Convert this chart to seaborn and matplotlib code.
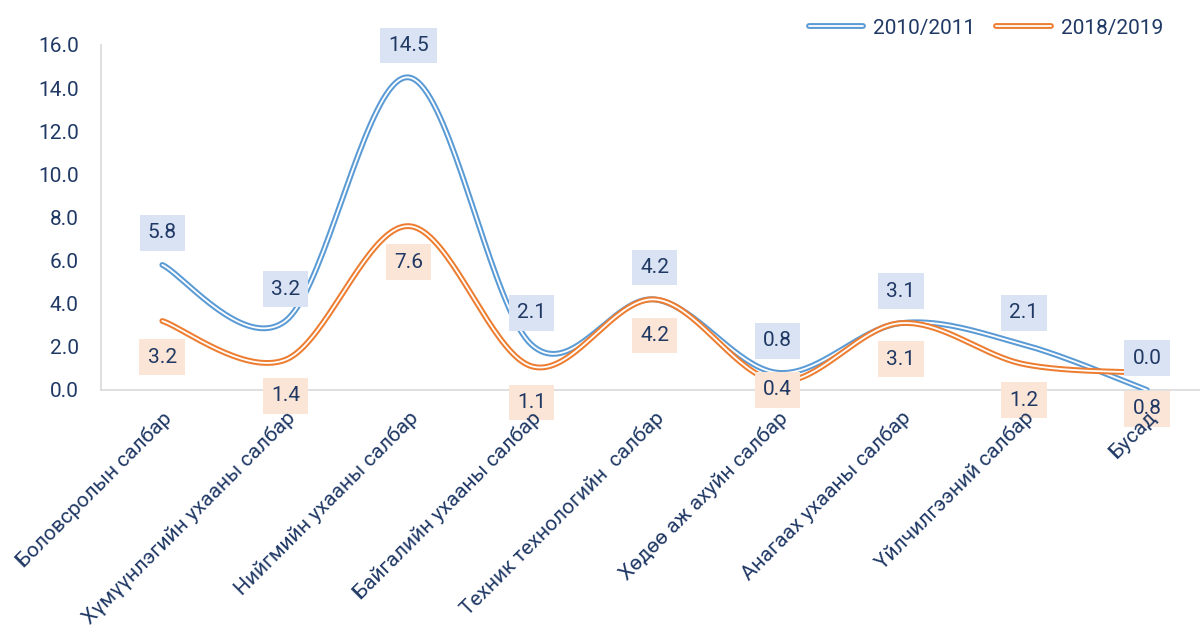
import matplotlib.pyplot as plt
import matplotlib.patheffects as pe
from matplotlib.lines import Line2D
import numpy as np
import pandas as pd
import seaborn as sns

categories = ['Боловсролын салбар', 'Хүмүүнлэгийн ухааны салбар', 'Нийгмийн ухааны салбар',
              'Байгалийн ухааны салбар', 'Техник технологийн  салбар', 'Хөдөө аж ахуйн салбар',
              'Анагаах ухааны салбар', 'Үйлчилгээний салбар', 'Бусад']
y2010 = [5.8, 3.2, 14.5, 2.1, 4.2, 0.8, 3.1, 2.1, 0.0]
y2018 = [3.2, 1.4, 7.6, 1.1, 4.2, 0.4, 3.1, 1.2, 0.8]
series_names = ['2010/2011', '2018/2019']
colors = ['#5B9BD5', '#ED7D31']
box_colors = ['#DAE3F3', '#FBE5D6']
text_color = '#1F3864'


def smooth(ys, n=40):
    # excel-like smoothed line (bezier with neighbour based control points)
    pts = np.column_stack([np.arange(len(ys)), ys]).astype(float)
    ext = np.vstack([pts[0], pts, pts[-1]])
    t = np.linspace(0, 1, n)[:, None]
    out = []
    for i in range(len(pts) - 1):
        p0, p1, p2, p3 = ext[i], ext[i + 1], ext[i + 2], ext[i + 3]
        c1 = p1 + (p2 - p0) / 6
        c2 = p2 - (p3 - p1) / 6
        seg = (1 - t) ** 3 * p1 + 3 * (1 - t) ** 2 * t * c1 + 3 * (1 - t) * t ** 2 * c2 + t ** 3 * p2
        out.append(seg if i == 0 else seg[1:])
    return np.vstack(out)


sns.set_style('white')
plt.rcParams['font.family'] = ['Roboto', 'DejaVu Sans']

fig = plt.figure(figsize=(12, 6.29), dpi=100)
ax = fig.add_axes([0.084, 0.38, 0.923, 0.5485])

frames = []
for name, vals in zip(series_names, [y2010, y2018]):
    s = smooth(vals)
    frames.append(pd.DataFrame({'x': s[:, 0], 'y': s[:, 1], 'series': name}))
df = pd.concat(frames, ignore_index=True)

handles = []
for name, col in zip(series_names, colors):
    effects = [pe.Stroke(linewidth=4.2, foreground=col), pe.Normal()]
    sns.lineplot(data=df[df['series'] == name], x='x', y='y', sort=False, estimator=None,
                 color='white', lw=1.3, ax=ax, path_effects=effects, zorder=3)
    handles.append(Line2D([], [], color='white', lw=1.3, path_effects=effects))

# data labels: blue above the point, orange below (0.4 pushed up like in the source)
offsets = [[23] * len(y2010), [-26] * len(y2018)]
offsets[1][5] = -6
for vals, bc, offs in zip([y2010, y2018], box_colors, offsets):
    for i, (v, off) in enumerate(zip(vals, offs)):
        ax.annotate(f'{v:.1f}', (i, v), xytext=(0, off), textcoords='offset points',
                    ha='center', va='center', fontsize=15, color=text_color, zorder=5,
                    bbox=dict(boxstyle='square,pad=0.4', fc=bc, ec='none'))

ax.set_xlim(-0.5, 8.5)
ax.set_ylim(0, 16)
ax.set_yticks(np.arange(0, 17, 2))
ax.set_yticklabels([f'{v:.1f}' for v in np.arange(0, 17, 2)])
ax.set_xticks(range(len(categories)))
ax.set_xticklabels(categories, rotation=45, ha='right', rotation_mode='anchor')
ax.tick_params(axis='y', length=0, pad=16, labelsize=15, labelcolor=text_color)
ax.tick_params(axis='x', length=0, pad=13, labelsize=15, labelcolor=text_color)
ax.set_xlabel('')
ax.set_ylabel('')
for side in ['top', 'right']:
    ax.spines[side].set_visible(False)
for side in ['left', 'bottom']:
    ax.spines[side].set_color('#D9D9D9')
    ax.spines[side].set_linewidth(1.2)
ax.xaxis.set_zorder(10)

fig.legend(handles, series_names, loc='upper right', bbox_to_anchor=(0.985, 1.0), ncol=2,
           frameon=False, handlelength=2.6, fontsize=15, labelcolor=text_color,
           columnspacing=1.0, handletextpad=0.5)

fig.savefig('out.png', dpi=100)
